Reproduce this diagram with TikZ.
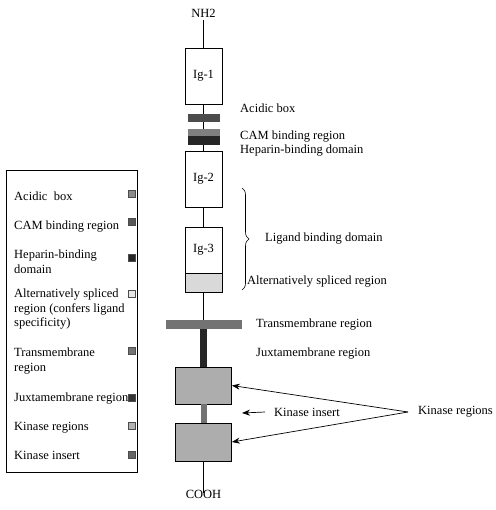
\documentclass[tikz,border=0pt]{standalone}
\usepackage{fontspec}
\setmainfont{Liberation Serif}
\usetikzlibrary{arrows.meta,decorations.pathreplacing}
\begin{document}
\begin{tikzpicture}[x=1pt,y=-1pt,
  lbl/.style={font=\fontsize{12.5}{14.5}\selectfont, inner sep=0pt},
  dom/.style={draw, line width=0.7pt, fill=white, minimum width=37pt, inner sep=0pt, font=\fontsize{12.5}{14.5}\selectfont},
  bar/.style={draw=none, inner sep=0pt, minimum width=32pt},
  kin/.style={draw, line width=0.7pt, fill=black!32, minimum width=56pt, inner sep=0pt},
  sq/.style={draw=black!70, line width=0.5pt, minimum size=7pt, inner sep=0pt},
  bb/.style={line width=0.7pt},
  arr/.style={line width=0.7pt, -{Stealth[length=8pt,width=6pt]}}
]
\useasboundingbox (0,0) rectangle (495,510);

% ---- molecule ----
\node[lbl] (nh2) at (203.5,13) {NH2};
\node[dom, minimum height=56pt] (ig1) at (203.5,76) {Ig-1};
\node[bar, fill=black!70, minimum height=8pt] (acid) at (203.5,118) {};
\node[bar, fill=black!50, minimum height=7pt] (cam) at (203.5,132.5) {};
\node[bar, fill=black!85, minimum height=9pt] (hep) at (203.5,140.5) {};
\node[dom, minimum height=56pt] (ig2) at (203.5,179) {Ig-2};
\node[dom, minimum height=46pt] (ig3) at (203.5,250) {Ig-3};
\node[dom, fill=black!15, minimum height=19pt] (spl) at (203.5,282.5) {};
\node[bar, fill=black!55, minimum width=76pt, minimum height=9pt] (tm) at (203.5,324.5) {};
\node[bar, fill=black!85, minimum width=7pt, minimum height=38pt] (jux) at (203.5,348) {};
\node[kin, minimum height=37pt] (k1) at (203.5,385.5) {};
\node[bar, fill=black!55, minimum width=6pt, minimum height=19pt] (ins) at (203.5,413.5) {};
\node[kin, minimum height=38pt] (k2) at (203.5,442) {};
\node[lbl] (cooh) at (203.5,494) {COOH};

\draw[bb] (nh2.south) ++(0,3) -- (ig1.north);
\draw[bb] (ig1.south) -- (acid.north);
\draw[bb] (acid.south) -- (cam.north);
\draw[bb] (hep.south) -- (ig2.north);
\draw[bb] (ig2.south) -- (ig3.north);
\draw[bb] (spl.south) -- (tm.north);
\draw[bb] (k2.south) -- ([yshift=-3pt]cooh.north);

% ---- right labels ----
\node[lbl, anchor=west] (tAcid) at (240,108) {Acidic box};
\node[lbl, anchor=west] (tCam) at (240,137) {CAM binding region};
\node[lbl, anchor=west] (tHep) at (240,151) {Heparin-binding domain};
\coordinate (brT) at (242,188);
\coordinate (brB) at (242,290);
\draw[line width=0.6pt, decorate, decoration={brace, amplitude=7pt}] (brT) -- (brB);
\node[lbl, anchor=west] (tLig) at (265,239) {Ligand binding domain};
\node[lbl, anchor=west] (tAlt) at (247,282) {Alternatively spliced region};
\node[lbl, anchor=west] (tTm) at (256,325) {Transmembrane region};
\node[lbl, anchor=west] (tJux) at (256,354) {Juxtamembrane region};
\node[lbl, anchor=west] (tIns) at (274,412) {Kinase insert};
\node[lbl, anchor=west] (tKin) at (418,412) {Kinase regions};

\coordinate (insTip) at (242,413);
\draw[arr] ([xshift=-9pt]tIns.west) -- (insTip);
\draw[arr] ([xshift=-10pt]tKin.west) -- (k1.east);
\draw[arr] ([xshift=-10pt]tKin.west) -- (k2.east);

% ---- legend ----
\node[draw, line width=0.6pt, anchor=north west, minimum width=131pt, minimum height=302pt, inner sep=0pt] (legend) at (6,170) {};

\node[lbl, anchor=north west, align=left] (lAcid) at (14,192) {Acidic\ \ box};
\node[lbl, anchor=north west, align=left] (lCam) at (14,221) {CAM binding region};
\node[lbl, anchor=north west, align=left] (lHep) at (14,250) {Heparin-binding\\domain};
\node[lbl, anchor=north west, align=left] (lAlt) at (14,289) {Alternatively spliced\\region (confers ligand\\specificity)};
\node[lbl, anchor=north west, align=left] (lTm) at (14,348) {Transmembrane\\region};
\node[lbl, anchor=north west, align=left] (lJux) at (14,393) {Juxtamembrane region};
\node[lbl, anchor=north west, align=left] (lKin) at (14,422) {Kinase regions};
\node[lbl, anchor=north west, align=left] (lIns) at (14,451) {Kinase insert};

\node[sq, fill=black!45] (sAcid) at (131.5,194) {};
\node[sq, fill=black!65] (sCam) at (131.5,222) {};
\node[sq, fill=black!85] (sHep) at (131.5,258) {};
\node[sq, fill=black!10] (sAlt) at (131.5,294) {};
\node[sq, fill=black!55] (sTm) at (131.5,351) {};
\node[sq, fill=black!80] (sJux) at (131.5,398) {};
\node[sq, fill=black!30] (sKin) at (131.5,426) {};
\node[sq, fill=black!60] (sIns) at (131.5,455) {};
\end{tikzpicture}
\end{document}
